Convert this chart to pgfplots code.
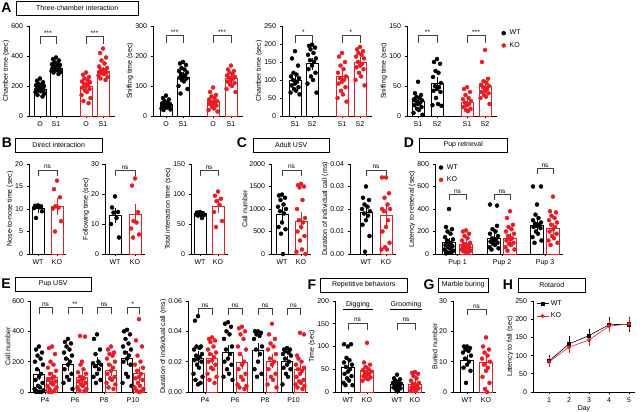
\documentclass[border=0pt]{standalone}
\usepackage{pgfplots}
\pgfplotsset{compat=1.18}
\usepackage{fontspec}
\setmainfont{Liberation Sans}
\definecolor{kored}{RGB}{232,28,36}
\newcommand{\fs}{\fontsize{7}{8}\selectfont}
\newcommand{\fss}{\fontsize{6.5}{6.5}\selectfont}
\newcommand{\brk}[6]{\draw[line width=0.5pt, black!75] (axis cs:#1,#4) -- (axis cs:#1,#3) -- (axis cs:#2,#3) -- (axis cs:#2,#4);\node[font=\fss, anchor=south, inner sep=0.6pt] at (axis cs:#5,#3) {#6};}
\pgfplotsset{
 gp/.style={scale only axis, anchor=south west, axis lines=left, axis line style={-, line width=0.7pt}, tick align=outside, major tick length=2.5pt, tick style={line width=0.6pt, black}, ymin=0, clip=false, tick label style={font=\fs}, label style={font=\fs}, /pgf/number format/assume math mode=true, /pgf/number format/1000 sep={}, scaled y ticks=false, ylabel shift=-5pt},
 wtbar/.style={ybar, bar shift=0pt, bar width=#1, draw=black, fill=white, line width=0.6pt, forget plot, error bars/y dir=both, error bars/y explicit, error bars/error bar style={line width=0.6pt, black}, error bars/error mark options={mark size=2.5pt, line width=0.6pt, black}},
 kobar/.style={ybar, bar shift=0pt, bar width=#1, draw=kored, fill=white, line width=0.6pt, forget plot, error bars/y dir=both, error bars/y explicit, error bars/error bar style={line width=0.6pt, kored}, error bars/error mark options={mark size=2.5pt, line width=0.6pt, kored}},
 wtpt/.style={only marks, mark=*, mark size=2pt, black, forget plot},
 kopt/.style={only marks, mark=*, mark size=2pt, kored, forget plot},
}
\begin{document}
\begin{tikzpicture}
\useasboundingbox (0,0) rectangle (640pt,412pt);
% titles
\node[font=\bfseries\fontsize{14}{14}\selectfont, inner sep=0pt] at (6.5pt,404pt) {A};
\node[draw, line width=0.5pt, minimum width=122pt, minimum height=14pt, inner sep=0pt, anchor=west, font=\fs] at (16pt,404pt) {Three-chamber interaction};
\node[font=\bfseries\fontsize{14}{14}\selectfont, inner sep=0pt] at (7pt,269pt) {B};
\node[draw, line width=0.5pt, minimum width=87pt, minimum height=14pt, inner sep=0pt, anchor=west, font=\fs] at (15pt,267pt) {Direct interaction};
\node[font=\bfseries\fontsize{14}{14}\selectfont, inner sep=0pt] at (242pt,269pt) {C};
\node[draw, line width=0.5pt, minimum width=76pt, minimum height=14pt, inner sep=0pt, anchor=west, font=\fs] at (253pt,267pt) {Adult USV};
\node[font=\bfseries\fontsize{14}{14}\selectfont, inner sep=0pt] at (409pt,269pt) {D};
\node[draw, line width=0.5pt, minimum width=88pt, minimum height=14pt, inner sep=0pt, anchor=west, font=\fs] at (419pt,267pt) {Pup retrieval};
\node[font=\bfseries\fontsize{14}{14}\selectfont, inner sep=0pt] at (6pt,128pt) {E};
\node[draw, line width=0.5pt, minimum width=76pt, minimum height=14pt, inner sep=0pt, anchor=west, font=\fs] at (15pt,128pt) {Pup USV};
\node[font=\bfseries\fontsize{14}{14}\selectfont, inner sep=0pt] at (312pt,127pt) {F};
\node[draw, line width=0.5pt, minimum width=87pt, minimum height=14pt, inner sep=0pt, anchor=west, font=\fs] at (320pt,127pt) {Repetitive behaviors};
\node[font=\bfseries\fontsize{14}{14}\selectfont, inner sep=0pt] at (429pt,127pt) {G};
\node[draw, line width=0.5pt, minimum width=50pt, minimum height=14pt, inner sep=0pt, anchor=west, font=\fs] at (438pt,127pt) {Marble buring};
\node[font=\bfseries\fontsize{14}{14}\selectfont, inner sep=0pt] at (508pt,127pt) {H};
\node[draw, line width=0.5pt, minimum width=67pt, minimum height=14pt, inner sep=0pt, anchor=west, font=\fs] at (518pt,127pt) {Rotarod};

% ---------- A1
\begin{axis}[gp, at={(29pt,296pt)}, width=86pt, height=90pt, xmin=29, xmax=115, ymax=600, ytick={0,200,400,600}, xtick={40,56,86,103}, xticklabels={O,S1,O,S1}, ylabel={Chamber time (sec)}]
\addplot[wtbar=12pt] coordinates {(40,180) +- (0,8) (56,320) +- (0,8)};
\addplot[kobar=12pt] coordinates {(86,200) +- (0,12) (103,300) +- (0,12)};
\addplot[wtpt] coordinates {(40,250)(37,235)(43,225)(38.5,215)(41.5,210)(36,205)(44,200)(38,195)(42,190)(40,185)(36.5,180)(43.5,175)(39,170)(41,165)(35.5,160)(44.5,150)(37.5,140)(42.5,130)
 (56,390)(53,380)(59,370)(54.5,360)(57.5,350)(52,345)(60,340)(54,335)(58,330)(56,325)(52.5,320)(59.5,315)(55,310)(57,305)(51.5,300)(60.5,295)(53.5,290)(58.5,280)};
\addplot[kopt] coordinates {(86,290)(83,275)(89,260)(84.5,250)(87.5,240)(82,230)(90,225)(84,215)(88,210)(86,200)(82.5,190)(89.5,180)(85,170)(87,160)(81.5,140)(90.5,120)(83.5,100)(88.5,85)
 (103,450)(100,420)(106,390)(101.5,370)(104.5,350)(99,330)(107,320)(101,310)(105,305)(103,300)(99.5,295)(106.5,290)(102,285)(104,280)(98.5,270)(107.5,260)(100.5,250)(105.5,240)};
\brk{40}{56}{534}{480}{48}{***}
\brk{86}{103}{534}{480}{94.5}{***}
\end{axis}
% ---------- A2
\begin{axis}[gp, at={(153pt,296pt)}, width=90pt, height=90pt, xmin=153, xmax=243, ymax=300, ytick={0,100,200,300}, xtick={166,183,213,231}, xticklabels={O,S1,O,S1}, ylabel={Sniffing time (sec)}]
\addplot[wtbar=12pt] coordinates {(166,38) +- (0,3) (183,130) +- (0,7)};
\addplot[kobar=12pt] coordinates {(213,48) +- (0,5) (231,125) +- (0,6)};
\addplot[wtpt] coordinates {(166,68)(163,60)(169,55)(164.5,50)(167.5,45)(162,42)(170,40)(164,38)(168,36)(166,35)(162.5,33)(169.5,32)(165,30)(167,28)(161.5,25)(170.5,22)(163.5,20)
 (183,180)(180,175)(186,170)(181.5,160)(184.5,155)(179,150)(187,145)(181,140)(185,135)(183,130)(179.5,128)(186.5,125)(182,120)(184,115)(178.5,100)(187.5,90)(180.5,75)};
\addplot[kopt] coordinates {(213,95)(210,80)(216,70)(211.5,65)(214.5,60)(209,55)(217,50)(211,48)(215,45)(213,42)(209.5,40)(216.5,35)(212,30)(214,25)(208.5,20)(217.5,15)
 (231,168)(228,155)(234,150)(229.5,145)(232.5,140)(227,135)(235,130)(229,128)(233,125)(231,120)(227.5,115)(234.5,110)(230,105)(232,100)(226.5,90)(235.5,80)};
\brk{166}{183}{270}{243}{174.5}{***}
\brk{213}{231}{270}{243}{222}{***}
\end{axis}
% ---------- A3
\begin{axis}[gp, at={(282pt,296pt)}, width=90pt, height=90pt, xmin=282, xmax=372, ymax=250, ytick={0,50,100,150,200,250}, xtick={295,312,342,360}, xticklabels={S1,S2,S1,S2}, ylabel={Chamber time (sec)}]
\addplot[wtbar=12pt] coordinates {(295,100) +- (0,8) (312,145) +- (0,10)};
\addplot[kobar=12pt] coordinates {(342,110) +- (0,10) (360,148) +- (0,8)};
\addplot[wtpt] coordinates {(295,180)(292,160)(298,140)(293.5,120)(296.5,115)(291,110)(299,105)(293,100)(297,95)(295,90)(291.5,85)(298.5,80)(294,75)(296,70)(290.5,65)(299.5,60)
 (312,198)(309,195)(315,190)(310.5,185)(313.5,175)(308,170)(316,160)(310,155)(314,150)(312,140)(308.5,130)(315.5,120)(311,110)(313,100)(307.5,90)(316.5,65)};
\addplot[kopt] coordinates {(342,175)(339,165)(345,150)(340.5,140)(343.5,130)(338,120)(346,110)(340,105)(344,100)(342,95)(338.5,90)(345.5,80)(341,70)(343,60)(337.5,50)(346.5,40)
 (360,192)(357,185)(363,180)(358.5,175)(361.5,170)(356,165)(364,160)(358,150)(362,145)(360,140)(356.5,135)(363.5,130)(359,120)(361,110)(355.5,100)(364.5,85)};
\brk{295}{312}{225}{203}{303.5}{*}
\brk{342}{360}{225}{203}{351}{*}
\end{axis}
% ---------- A4
\begin{axis}[gp, at={(407pt,296pt)}, width=90pt, height=90pt, xmin=407, xmax=497, ymax=150, ytick={0,50,100,150}, xtick={418,437,467,485}, xticklabels={S1,S2,S1,S2}, ylabel={Sniffing time (sec)},
 legend style={draw=none, fill=none, font=\fs, at={(1.05,0.98)}, anchor=north west, inner sep=0pt, row sep=2pt}, legend cell align=left, legend image code/.code={\draw[#1] plot coordinates {(0pt,0pt)};}]
\addplot[wtbar=12pt] coordinates {(418,25) +- (0,3) (437,55) +- (0,6)};
\addplot[kobar=12pt] coordinates {(467,23) +- (0,3) (485,50) +- (0,6)};
\addplot[wtpt] coordinates {(418,57)(415,38)(421,35)(416.5,32)(419.5,30)(414,28)(422,26)(416,25)(420,22)(418,20)(414.5,18)(421.5,15)(417,12)(419,10)(413.5,5)(422.5,2)
 (437,95)(434,90)(440,87)(435.5,75)(438.5,72)(433,65)(441,55)(435,50)(439,48)(437,45)(433.5,42)(440.5,40)(436,30)(438,20)(432.5,18)(441.5,17)};
\addplot[kopt] coordinates {(467,48)(464,45)(470,40)(465.5,35)(468.5,30)(463,28)(471,25)(465,22)(469,20)(467,18)(463.5,15)(470.5,12)(466,10)(468,8)
 (485,110)(482,90)(488,62)(483.5,58)(486.5,55)(481,52)(489,50)(483,48)(487,45)(485,42)(481.5,40)(488.5,38)(484,35)(486,32)(480.5,30)(489.5,20)};
\brk{418}{437}{135}{122}{427.5}{**}
\brk{467}{485}{135}{122}{476}{***}
\addlegendimage{only marks, mark=*, mark size=2pt, black}
\addlegendentry{\ WT}
\addlegendimage{only marks, mark=*, mark size=2pt, kored}
\addlegendentry{\ KO}
\end{axis}
% ---------- B1
\begin{axis}[gp, at={(29pt,158pt)}, width=37pt, height=90pt, xmin=29, xmax=66, ymax=20, ytick={0,5,10,15,20}, xtick={38,57}, xticklabels={WT,KO}, ylabel={Nose-to-nose time (sec)}]
\addplot[wtbar=12pt] coordinates {(38,10.1) +- (0,0.4)};
\addplot[kobar=12pt] coordinates {(57,10.5) +- (0,1.3)};
\addplot[wtpt] coordinates {(38,10.8)(35,10.7)(41,10.6)(36.5,10.5)(39.5,10.4)(34,10.2)(42,9.5)(36,8.0)};
\addplot[kopt] coordinates {(57,16.3)(54,14.4)(60,12.6)(55.5,10.6)(58.5,10.3)(53,10.1)(61,7.3)(55,5.0)};
\brk{38}{57}{18.7}{17.3}{47.5}{ns}
\end{axis}
% ---------- B2
\begin{axis}[gp, at={(105pt,158pt)}, width=40pt, height=90pt, xmin=105, xmax=145, ymax=30, ytick={0,10,20,30}, xtick={115,135}, xticklabels={WT,KO}, ylabel={Following time (sec)}]
\addplot[wtbar=12pt] coordinates {(115,12.8) +- (0,1.8)};
\addplot[kobar=12pt] coordinates {(135,13.3) +- (0,2.5)};
\addplot[wtpt] coordinates {(115,19.2)(112,15.5)(118,14.0)(113.5,13.8)(116.5,12.0)(111,10.0)(119,5.5)};
\addplot[kopt] coordinates {(135,25.2)(132,22.8)(138,14.0)(133.5,11.0)(136.5,10.5)(131,8.5)(139,6.5)(133,5.5)};
\brk{115}{135}{28}{26}{125}{ns}
\end{axis}
% ---------- B3
\begin{axis}[gp, at={(191pt,158pt)}, width=37pt, height=90pt, xmin=191, xmax=228, ymax=150, ytick={0,50,100,150}, xtick={200,218}, xticklabels={WT,KO}, ylabel={Total interaction time (sec)}]
\addplot[wtbar=12pt] coordinates {(200,67) +- (0,1.3)};
\addplot[kobar=12pt] coordinates {(218,80) +- (0,7)};
\addplot[wtpt] coordinates {(200,70)(197,69)(203,68)(198.5,68)(201.5,67)(196,66)(204,65)(198,64)(202,60)};
\addplot[kopt] coordinates {(218,104)(215,97)(221,92)(216.5,88)(219.5,82)(214,70)(222,55)(216,45)};
\brk{200}{218}{140}{130}{209}{ns}
\end{axis}
% ---------- C1
\begin{axis}[gp, at={(271pt,158pt)}, width=40pt, height=90pt, xmin=271, xmax=311, ymax=2000, ytick={0,500,1000,1500,2000}, xtick={282,301}, xticklabels={WT,KO}, ylabel={Call number}]
\addplot[wtbar=12pt] coordinates {(282,890) +- (0,100)};
\addplot[kobar=12pt] coordinates {(301,730) +- (0,150)};
\addplot[wtpt] coordinates {(282,1320)(279,1300)(285,1250)(280.5,1200)(283.5,1100)(278,1050)(286,1000)(280,950)(284,900)(282,700)(278.5,600)(285.5,550)(281,450)(283,0)};
\addplot[kopt] coordinates {(301,1560)(298,1530)(304,1500)(299.5,1480)(302.5,1200)(297,1000)(305,800)(299,750)(303,700)(301,600)(297.5,500)(304.5,400)(300,300)(302,100)(296.5,50)(305.5,0)};
\brk{282}{301}{1870}{1730}{291.5}{ns}
\end{axis}
% ---------- C2
\begin{axis}[gp, at={(350pt,158pt)}, width=46pt, height=90pt, xmin=350, xmax=396, ymax=0.04, ytick={0,0.01,0.02,0.03,0.04}, yticklabel style={/pgf/number format/.cd, fixed, fixed zerofill, precision=2}, xtick={366,386}, xticklabels={WT,KO}, ylabel={Duration of individual call (ms)}]
\addplot[wtbar=12pt] coordinates {(366,0.0187) +- (0,0.002)};
\addplot[kobar=12pt] coordinates {(386,0.017) +- (0,0.003)};
\addplot[wtpt] coordinates {(366,0.030)(363,0.025)(369,0.024)(364.5,0.022)(367.5,0.021)(362,0.020)(370,0.019)(364,0.018)(368,0.017)(366,0.015)(362.5,0.013)(369.5,0.008)(365,0.001)};
\addplot[kopt] coordinates {(386,0.034)(382,0.034)(389,0.027)(384.5,0.025)(387.5,0.022)(382,0.020)(390,0.020)(384,0.019)(388,0.015)(386,0.012)(382.5,0.010)(389.5,0.005)(385,0.003)(387,0.002)(381.5,0.002)};
\brk{366}{386}{0.0374}{0.0346}{376}{ns}
\end{axis}
% ---------- D
\begin{axis}[gp, at={(435pt,158pt)}, width=128pt, height=90pt, xmin=435, xmax=563, ymax=800, ytick={0,200,400,600,800}, xtick={457.5,502,545}, xticklabels={Pup 1,Pup 2,Pup 3}, ylabel={Latency to retrieval (sec)},
 legend style={draw=none, fill=none, font=\fs, at={(0.03,1.02)}, anchor=north west, inner sep=0pt, row sep=2pt}, legend cell align=left, legend image code/.code={\draw[#1] plot coordinates {(0pt,0pt)};}]
\addplot[wtbar=13pt] coordinates {(449,100) +- (0,22) (494,140) +- (0,28) (537,255) +- (0,30)};
\addplot[kobar=13pt] coordinates {(466,85) +- (0,15) (510,140) +- (0,20) (553,225) +- (0,25)};
\addplot[wtpt] coordinates {(449,400)(446,240)(452,220)(447.5,200)(450.5,180)(445,150)(453,130)(447,120)(451,100)(449,90)(445.5,80)(452.5,70)(448,60)(450,50)(444.5,40)(453.5,30)(446.5,20)(451.5,15)(449,10)(446,5)
 (490,440)(497,430)(497,250)(492.5,220)(495.5,200)(490,180)(498,160)(492,140)(496,130)(494,120)(490.5,110)(497.5,100)(493,90)(495,80)(489.5,60)(498.5,50)(491.5,40)
 (533,600)(541,600)(537,440)(535.5,350)(538.5,320)(533,300)(541,280)(535,270)(539,260)(537,250)(533.5,240)(540.5,230)(536,200)(538,180)(532.5,150)(541.5,120)(534.5,100)};
\addplot[kopt] coordinates {(466,210)(463,200)(469,180)(464.5,160)(467.5,140)(462,120)(470,100)(464,90)(468,80)(466,75)(462.5,70)(469.5,60)(465,50)(467,45)(461.5,40)(470.5,30)(463.5,25)(468.5,20)(466,15)
 (510,380)(507,320)(513,260)(508.5,240)(511.5,220)(506,200)(514,180)(508,160)(512,140)(510,130)(506.5,120)(513.5,100)(509,90)(511,80)(505.5,60)(514.5,40)(507.5,30)
 (553,510)(550,380)(556,370)(551.5,340)(554.5,320)(549,300)(557,280)(551,260)(555,240)(553,220)(549.5,200)(556.5,180)(552,160)(554,140)(548.5,120)(557.5,100)(550.5,80)};
\brk{449}{466}{533}{480}{457.5}{ns}
\brk{494}{510}{533}{480}{502}{ns}
\brk{537}{553}{764}{711}{545}{ns}
\addlegendimage{only marks, mark=*, mark size=2pt, black}
\addlegendentry{\ WT}
\addlegendimage{only marks, mark=*, mark size=2pt, kored}
\addlegendentry{\ KO}
\end{axis}
% ---------- E1
\begin{axis}[gp, at={(30pt,20pt)}, width=117pt, height=91pt, xmin=30, xmax=147, ymax=600, ytick={0,200,400,600}, xtick={45,75,104,133}, xticklabels={P4,P6,P8,P10}, ylabel={Call number}]
\addplot[wtbar=11pt] coordinates {(39,115) +- (0,20) (68,180) +- (0,25) (97,185) +- (0,30) (127,225) +- (0,30)};
\addplot[kobar=11pt] coordinates {(52,95) +- (0,20) (82,95) +- (0,25) (111,145) +- (0,20) (139,120) +- (0,30)};
\addplot[wtpt] coordinates {(39,300)(36,280)(42,260)(37.5,240)(40.5,220)(35,200)(43,180)(37,150)(41,120)(39,100)(35.5,80)(42.5,60)(38,40)(40,30)(34.5,20)(43.5,10)(36.5,5)(41.5,0)(39,0)(36,0)
 (68,350)(65,330)(71,320)(66.5,300)(69.5,280)(64,260)(72,240)(66,220)(70,200)(68,180)(64.5,150)(71.5,120)(67,100)(69,80)(63.5,60)(72.5,20)
 (97,380)(94,350)(100,280)(95.5,250)(98.5,200)(93,190)(101,180)(95,170)(99,150)(97,120)(93.5,100)(100.5,80)(96,60)
 (127,410)(124,400)(130,380)(125.5,350)(128.5,320)(123,300)(131,280)(125,260)(129,240)(127,220)(123.5,200)(130.5,180)(126,120)(128,100)(122.5,60)(131.5,40)};
\addplot[kopt] coordinates {(52,300)(49,290)(55,250)(50.5,200)(53.5,180)(48,160)(56,140)(50,120)(54,100)(52,90)(48.5,80)(55.5,70)(51,60)(53,50)(47.5,40)(56.5,30)(49.5,20)(54.5,10)(52,0)(49,0)
 (80,370)(85,365)(82,200)(80.5,180)(83.5,150)(78,130)(86,120)(80,100)(84,90)(82,80)(78.5,70)(85.5,60)(81,50)(83,40)(77.5,30)(86.5,20)(79.5,10)(84.5,5)
 (111,300)(108,280)(114,260)(109.5,250)(112.5,240)(107,220)(115,200)(109,180)(113,160)(111,140)(107.5,120)(114.5,100)(110,90)(112,80)(106.5,60)(115.5,50)(108.5,30)(113.5,20)
 (139,480)(136,340)(142,300)(137.5,240)(140.5,200)(135,180)(143,160)(137,140)(141,120)(139,100)(135.5,90)(142.5,80)(138,60)(140,40)(134.5,30)(143.5,20)(136.5,10)(141.5,5)(139,0)};
\brk{39}{52}{560}{513}{45.5}{ns}
\brk{68}{82}{560}{513}{75}{**}
\brk{97}{111}{560}{513}{104}{ns}
\brk{127}{139}{560}{513}{133}{*}
\end{axis}
% ---------- E2
\begin{axis}[gp, at={(188pt,20pt)}, width=120pt, height=91pt, xmin=188, xmax=308, ymax=0.06, ytick={0,0.02,0.04,0.06}, yticklabel style={/pgf/number format/.cd, fixed, fixed zerofill, precision=2}, xtick={205,235,265,293.5}, xticklabels={P4,P6,P8,P10}, ylabel={Duration of individual call (ms)}]
\addplot[wtbar=11pt] coordinates {(198,0.0225) +- (0,0.003) (228,0.0265) +- (0,0.003) (258,0.0275) +- (0,0.003) (287,0.020) +- (0,0.002)};
\addplot[kobar=11pt] coordinates {(212,0.022) +- (0,0.002) (242,0.0195) +- (0,0.003) (272,0.0205) +- (0,0.003) (300,0.015) +- (0,0.002)};
\addplot[wtpt] coordinates {(198,0.050)(195,0.047)(201,0.030)(196.5,0.030)(199.5,0.029)(194,0.028)(202,0.025)(196,0.024)(200,0.023)(198,0.022)(194.5,0.021)(201.5,0.020)(197,0.018)(199,0.016)(193.5,0.012)(202.5,0.010)(195.5,0.008)(200.5,0.006)(198,0.005)
 (228,0.046)(225,0.045)(231,0.043)(226.5,0.040)(229.5,0.038)(224,0.035)(232,0.030)(226,0.028)(230,0.025)(228,0.022)(224.5,0.020)(231.5,0.018)(227,0.015)(229,0.012)(223.5,0.010)(232.5,0.008)
 (258,0.040)(255,0.040)(261,0.039)(256.5,0.038)(259.5,0.037)(254,0.035)(262,0.030)(256,0.028)(260,0.025)(258,0.020)(254.5,0.015)(261.5,0.012)(257,0.010)
 (287,0.029)(284,0.028)(290,0.028)(285.5,0.027)(288.5,0.026)(283,0.025)(291,0.024)(285,0.022)(289,0.020)(287,0.018)(283.5,0.016)(290.5,0.015)(286,0.012)(288,0.010)(282.5,0.005)};
\addplot[kopt] coordinates {(212,0.036)(209,0.035)(215,0.034)(210.5,0.033)(213.5,0.030)(208,0.028)(216,0.026)(210,0.025)(214,0.023)(212,0.021)(208.5,0.020)(215.5,0.018)(211,0.016)(213,0.015)(207.5,0.012)(216.5,0.010)(209.5,0.008)(214.5,0.006)
 (242,0.043)(239,0.042)(245,0.040)(240.5,0.038)(243.5,0.035)(238,0.030)(246,0.028)(240,0.025)(244,0.020)(242,0.018)(238.5,0.015)(245.5,0.012)(241,0.010)(243,0.008)(237.5,0.005)(246.5,0.004)(239.5,0.003)(244.5,0.002)
 (272,0.045)(269,0.038)(275,0.035)(270.5,0.032)(273.5,0.030)(268,0.028)(276,0.025)(270,0.022)(274,0.020)(272,0.018)(268.5,0.015)(275.5,0.012)(271,0.010)(273,0.008)(267.5,0.005)(276.5,0.003)
 (300,0.039)(304,0.038)(297,0.024)(298.5,0.022)(301.5,0.020)(296,0.018)(304,0.016)(298,0.015)(302,0.014)(300,0.012)(296.5,0.010)(303.5,0.008)(299,0.007)(301,0.006)(295.5,0.005)(304.5,0.004)(297.5,0.003)(302.5,0.002)};
\brk{198}{212}{0.0554}{0.0508}{205}{ns}
\brk{228}{242}{0.0554}{0.0508}{235}{ns}
\brk{258}{272}{0.0554}{0.0508}{265}{ns}
\brk{287}{300}{0.0554}{0.0508}{293.5}{ns}
\end{axis}
% ---------- F
\begin{axis}[gp, at={(335pt,20pt)}, width=90pt, height=91pt, xmin=335, xmax=425, ymax=200, ytick={0,50,100,150,200}, xtick={348,367,397,415}, xticklabels={WT,KO,WT,KO}, ylabel={Time (sec)}]
\addplot[wtbar=13pt] coordinates {(348,55) +- (0,7) (397,18) +- (0,3)};
\addplot[kobar=13pt] coordinates {(367,47) +- (0,5) (415,18) +- (0,3)};
\addplot[wtpt] coordinates {(344,105)(351,105)(348,100)(346.5,75)(349.5,70)(344,65)(352,60)(346,55)(350,50)(348,45)(344.5,40)(351.5,35)(347,30)(349,25)(343.5,20)(352.5,15)(345.5,15)
 (397,38)(394,30)(400,28)(395.5,25)(398.5,22)(393,20)(401,18)(395,16)(399,15)(397,12)(393.5,10)(400.5,8)(396,5)(398,3)};
\addplot[kopt] coordinates {(367,108)(364,65)(370,60)(365.5,55)(368.5,50)(363,48)(371,45)(365,42)(369,40)(367,38)(363.5,35)(370.5,32)(366,30)(368,28)(362.5,25)
 (415,44)(412,42)(418,40)(413.5,35)(416.5,30)(411,25)(419,20)(413,18)(417,15)(415,12)(411.5,10)(418.5,8)(414,5)(416,3)(410.5,2)};
\node[font=\fs, anchor=south, inner sep=1pt] at (axis cs:358,183) {Digging};
\draw[line width=0.5pt] (axis cs:343,182) -- (axis cs:373,182);
\node[font=\fs, anchor=south, inner sep=1pt] at (axis cs:406,183) {Grooming};
\draw[line width=0.5pt] (axis cs:390,182) -- (axis cs:422,182);
\brk{348}{367}{152}{136}{357.5}{ns}
\brk{397}{415}{152}{136}{406}{ns}
\end{axis}
% ---------- G
\begin{axis}[gp, at={(453pt,20pt)}, width=43pt, height=91pt, xmin=453, xmax=496, ymax=30, ytick={0,10,20,30}, xtick={467,486}, xticklabels={WT,KO}, ylabel={Buried number}]
\addplot[wtbar=13pt] coordinates {(467,10.5) +- (0,1)};
\addplot[kobar=13pt] coordinates {(486,9.7) +- (0,1.3)};
\addplot[wtpt] coordinates {(467,15)(464,15)(470,14.5)(465.5,14)(468.5,13.5)(463,13)(471,12)(465,11)(469,10)(467,9)(463.5,8)(470.5,7)(466,3)};
\addplot[kopt] coordinates {(486,18)(483,15)(489,14)(484.5,13)(487.5,12)(482,11)(490,10)(484,9)(488,8)(486,7)(482.5,5)(489.5,3)(485,1)(487,0)};
\brk{467}{486}{27.4}{25.4}{476.5}{ns}
\end{axis}
% ---------- H
\begin{axis}[gp, at={(533pt,20pt)}, width=102pt, height=91pt, xmin=0.2, xmax=5.3, ymax=250, ytick={0,50,100,150,200,250}, xtick={1,2,3,4,5}, xlabel={Day}, ylabel={Latency to fall (sec)}, xlabel shift=-4pt,
 legend style={draw=none, fill=none, font=\fs, at={(0.03,1.03)}, anchor=north west, inner sep=0pt, row sep=2pt}, legend cell align=left, legend image code/.code={\draw[mark repeat=2, mark phase=2, #1] plot coordinates {(0pt,0pt)(6pt,0pt)(12pt,0pt)};}]
\addplot[black, mark=square*, mark size=1.7pt, line width=0.6pt, error bars/y dir=both, error bars/y explicit, error bars/error bar style={line width=0.5pt, black}, error bars/error mark options={mark size=2pt, line width=0.5pt, black}] coordinates {(1,85) +- (0,10) (2,132) +- (0,15) (3,155) +- (0,12) (4,185) +- (0,15) (5,186) +- (0,15)};
\addlegendentry{WT}
\addplot[kored, mark=*, mark size=1.7pt, line width=0.6pt, error bars/y dir=both, error bars/y explicit, error bars/error bar style={line width=0.5pt, kored}, error bars/error mark options={mark size=2pt, line width=0.5pt, kored}] coordinates {(1,83) +- (0,8) (2,123) +- (0,10) (3,143) +- (0,12) (4,181) +- (0,12) (5,187) +- (0,12)};
\addlegendentry{KO}
\end{axis}
\end{tikzpicture}
\end{document}
